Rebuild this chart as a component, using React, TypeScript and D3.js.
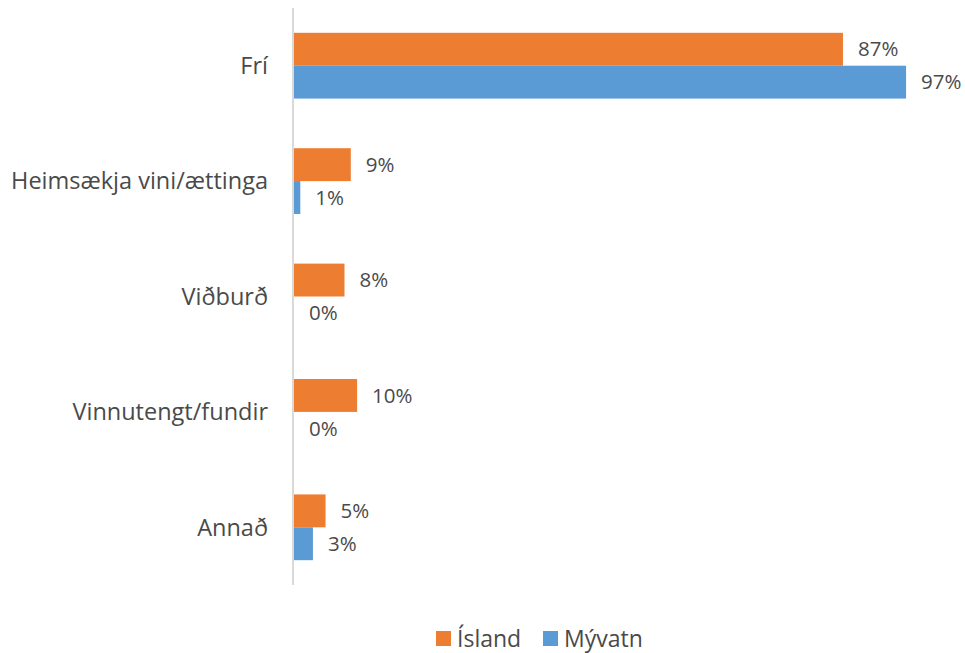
import React from "react";
import * as d3 from "d3";

const categories = ["Frí", "Heimsækja vini/ættinga", "Viðburð", "Vinnutengt/fundir", "Annað"];
const iceland = [87, 9, 8, 10, 5];
const myvatn = [97, 1, 0, 0, 3];
const seriesNames = ["Ísland", "Mývatn"];
const colors = ["#ED7D31", "#5B9BD5"];

const W = 965;
const H = 653;
const margin = { top: 8, right: 60, bottom: 68, left: 293 };
const font = "'Open Sans', 'Liberation Sans', sans-serif";
const textColor = "#4a4a4a";

export default function App() {
  const innerH = H - margin.top - margin.bottom;
  const x = d3.scaleLinear().domain([0, 100]).range([0, 631]);
  const y = d3.scaleBand().domain(categories).range([0, innerH]).paddingInner(0.43).paddingOuter(0.215);
  const sub = d3.scaleBand().domain(seriesNames).range([0, y.bandwidth()]);
  const series = [iceland, myvatn];

  return (
    <svg width={W} height={H} style={{ position: "absolute", left: 0, top: 0, fontFamily: font }}>
      <g transform={`translate(${margin.left},${margin.top})`}>
        {categories.map((c, i) => (
          <g key={c}>
            {series.map((vals, s) => {
              const yy = (y(c) as number) + (sub(seriesNames[s]) as number);
              const w = x(vals[i]);
              return (
                <g key={s}>
                  <rect x={1} y={yy} width={w} height={sub.bandwidth()} fill={colors[s]} />
                  <text
                    x={w + 16}
                    y={yy + sub.bandwidth() / 2}
                    dy="0.35em"
                    fontSize={20.5}
                    fill={textColor}
                  >
                    {vals[i]}%
                  </text>
                </g>
              );
            })}
            <text
              x={-25}
              y={(y(c) as number) + y.bandwidth() / 2}
              dy="0.35em"
              textAnchor="end"
              fontSize={23.5}
              fill={textColor}
            >
              {c}
            </text>
          </g>
        ))}
        <line x1={0} x2={0} y1={0} y2={innerH} stroke="#D9D9D9" strokeWidth={2} />
      </g>
      <g transform="translate(436,631)">
        {seriesNames.map((n, i) => (
          <g key={n} transform={`translate(${i * 107},0)`}>
            <rect width={15} height={15} fill={colors[i]} />
            <text x={21} y={8} dy="0.35em" fontSize={23} fill={textColor}>
              {n}
            </text>
          </g>
        ))}
      </g>
    </svg>
  );
}
